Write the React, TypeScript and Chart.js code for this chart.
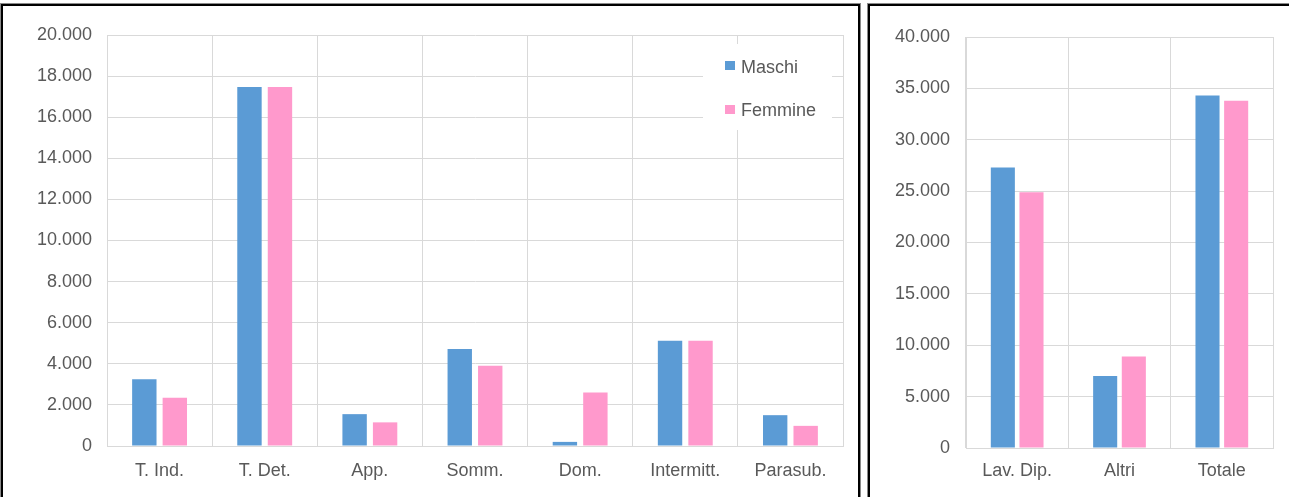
import React, { useEffect, useRef } from 'react';
import { Chart, registerables } from 'chart.js';

Chart.register(...registerables);

const seriesNames = ['Maschi', 'Femmine'];
const seriesColors = ['#5B9BD5', '#FF99CC'];

const leftCategories = ['T. Ind.', 'T. Det.', 'App.', 'Somm.', 'Dom.', 'Intermitt.', 'Parasub.'];
const leftMaschi = [3250, 17470, 1550, 4720, 200, 5120, 1500];
const leftFemmine = [2350, 17470, 1150, 3900, 2600, 5120, 980];
const leftYTicks = [0, 2000, 4000, 6000, 8000, 10000, 12000, 14000, 16000, 18000, 20000];

const rightCategories = ['Lav. Dip.', 'Altri', 'Totale'];
const rightMaschi = [27300, 7000, 34300];
const rightFemmine = [24900, 8900, 33800];
const rightYTicks = [0, 5000, 10000, 15000, 20000, 25000, 30000, 35000, 40000];

const FONT_FAMILY = '"Liberation Sans", Arial, sans-serif';
const TEXT_COLOR = '#595959';
const GRID_COLOR = '#d9d9d9';

const fmt = (v: number | string) =>
  String(Math.round(Number(v))).replace(/\B(?=(\d{3})+(?!\d))/g, '.');

const boxLegend = {
  id: 'boxLegend',
  afterDraw(chart: any) {
    const { ctx, chartArea } = chart;
    ctx.save();
    ctx.fillStyle = '#ffffff';
    ctx.fillRect(chartArea.right - 140, chartArea.top + 9, 129, 86);
    ctx.font = `18px ${FONT_FAMILY}`;
    ctx.textBaseline = 'alphabetic';
    ctx.textAlign = 'left';
    chart.data.datasets.forEach((ds: any, i: number) => {
      const top = chartArea.top + 26 + i * 44;
      ctx.fillStyle = ds.backgroundColor;
      ctx.fillRect(chartArea.right - 118, top, 10, 9);
      ctx.fillStyle = TEXT_COLOR;
      ctx.fillText(ds.label, chartArea.right - 102, chartArea.top + 38 + i * 43);
    });
    ctx.restore();
  },
};

function makeConfig(
  categories: string[],
  m: number[],
  f: number[],
  ticks: number[],
  geo: { padRight: number; padTop: number; yWidth: number; xHeight: number; yPad: number; xPad: number },
  catPct: number,
  barPct: number,
  withLegend: boolean
): any {
  const font = { family: FONT_FAMILY, size: 18 };
  return {
    type: 'bar',
    data: {
      labels: categories,
      datasets: [
        { label: seriesNames[0], data: m, backgroundColor: seriesColors[0], categoryPercentage: catPct, barPercentage: barPct },
        { label: seriesNames[1], data: f, backgroundColor: seriesColors[1], categoryPercentage: catPct, barPercentage: barPct },
      ],
    },
    plugins: withLegend ? [boxLegend] : [],
    options: {
      responsive: false,
      animation: false,
      layout: { padding: { left: 0, right: geo.padRight, top: geo.padTop, bottom: 0 } },
      plugins: { legend: { display: false }, tooltip: { enabled: false }, title: { display: false } },
      scales: {
        x: {
          grid: { color: GRID_COLOR, drawTicks: false, offset: true },
          border: { color: GRID_COLOR },
          ticks: { color: TEXT_COLOR, font, padding: geo.xPad, maxRotation: 0, autoSkip: false },
          afterFit: (s: any) => {
            s.height = geo.xHeight;
          },
        },
        y: {
          min: ticks[0],
          max: ticks[ticks.length - 1],
          grid: { color: GRID_COLOR, drawTicks: false },
          border: { color: GRID_COLOR },
          ticks: { color: TEXT_COLOR, font, padding: geo.yPad, callback: (v: any) => fmt(v) },
          afterBuildTicks: (s: any) => {
            s.ticks = ticks.map((v) => ({ value: v }));
          },
          afterFit: (s: any) => {
            s.width = geo.yWidth;
          },
        },
      },
    },
  };
}

export default function App() {
  const leftRef = useRef<HTMLCanvasElement | null>(null);
  const rightRef = useRef<HTMLCanvasElement | null>(null);

  useEffect(() => {
    document.body.style.margin = '0';
    const left = new Chart(
      leftRef.current as HTMLCanvasElement,
      makeConfig(
        leftCategories,
        leftMaschi,
        leftFemmine,
        leftYTicks,
        { padRight: 13, padTop: 35, yWidth: 107, xHeight: 51, yPad: 15, xPad: 14 },
        0.58,
        0.8,
        true
      )
    );
    const right = new Chart(
      rightRef.current as HTMLCanvasElement,
      makeConfig(
        rightCategories,
        rightMaschi,
        rightFemmine,
        rightYTicks,
        { padRight: 16, padTop: 37, yWidth: 96, xHeight: 49, yPad: 16, xPad: 12 },
        0.56,
        0.84,
        false
      )
    );
    return () => {
      left.destroy();
      right.destroy();
    };
  }, []);

  const panel = (leftPx: number, width: number): React.CSSProperties => ({
    position: 'absolute',
    left: leftPx,
    top: 3,
    width,
    height: 600,
    borderTop: '1px solid #8a8a8a',
    borderLeft: '1px solid #8a8a8a',
    borderRight: '1px solid #8a8a8a',
    boxSizing: 'border-box',
  });
  const inner: React.CSSProperties = {
    position: 'absolute',
    inset: 0,
    borderTop: '2px solid #000',
    borderLeft: '2px solid #000',
    borderRight: '2px solid #000',
  };

  return (
    <div style={{ position: 'relative', width: 1289, height: 497, overflow: 'hidden', background: '#fff' }}>
      <div style={panel(0, 861)}>
        <div style={inner} />
      </div>
      <div style={panel(867, 430)}>
        <div style={inner} />
      </div>
      <canvas ref={leftRef} width={856} height={497} style={{ position: 'absolute', left: 0, top: 0, width: 856, height: 497 }} />
      <canvas ref={rightRef} width={419} height={497} style={{ position: 'absolute', left: 870, top: 0, width: 419, height: 497 }} />
    </div>
  );
}
